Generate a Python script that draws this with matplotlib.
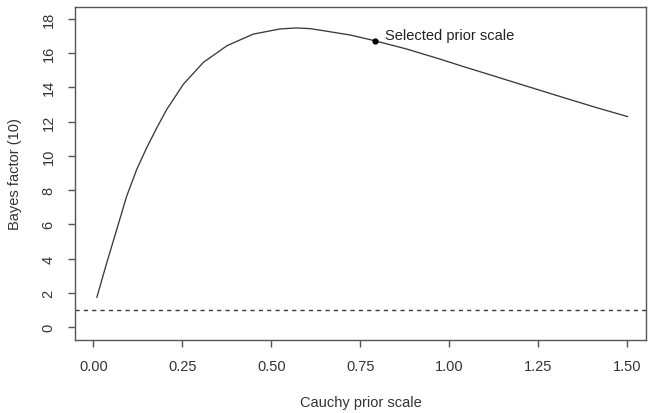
import matplotlib
matplotlib.use("Agg")
import matplotlib.pyplot as plt

# values
prior_scale = [0.01, 0.0376, 0.0657, 0.0938, 0.122, 0.15, 0.18, 0.206, 0.253, 0.309,
               0.375, 0.449, 0.524, 0.571, 0.609, 0.646, 0.721, 0.791, 0.88, 0.974,
               1.04, 1.095, 1.18, 1.25, 1.32, 1.41, 1.50]
bayes_factor = [1.75, 3.75, 5.70, 7.65, 9.21, 10.48, 11.7, 12.7, 14.18, 15.45,
                16.42, 17.1, 17.40, 17.46, 17.42, 17.3, 17.05, 16.71, 16.23, 15.64,
                15.2, 14.85, 14.3, 13.85, 13.4, 12.83, 12.29]
selected_x = 0.791
selected_y = 16.71
ref_line = 1
x_ticks = [0.0, 0.25, 0.5, 0.75, 1.0, 1.25, 1.5]
y_ticks = list(range(0, 19, 2))

plt.rcParams['font.family'] = ['Liberation Sans', 'DejaVu Sans']

fig = plt.figure(figsize=(6.49, 4.14), dpi=100)
ax = fig.add_axes([0.1156, 0.177, 0.88, 0.8036])

ax.plot(prior_scale, bayes_factor, color='#3a3a3a', lw=0.95)
ax.axhline(ref_line, color='#3a3a3a', lw=1, linestyle=(0, (3, 3)))
ax.plot([selected_x], [selected_y], 'o', color='black', markersize=3.5)
ax.annotate("Selected prior scale", (selected_x, selected_y), xytext=(7.5, 4),
            textcoords='offset points', fontsize=10.5, color='#222222', va='center')

ax.set_xlim(-0.0514, 1.5525)
ax.set_ylim(-0.73, 18.68)
ax.set_xticks(x_ticks)
ax.set_xticklabels([f"{t:.2f}" for t in x_ticks])
ax.set_yticks(y_ticks)
ax.set_yticklabels([str(t) for t in y_ticks], rotation=90, va='center')

# R-style axes: box around plot, outward ticks
for s in ax.spines.values():
    s.set_color('#555555')
    s.set_linewidth(1)
ax.tick_params(direction='out', length=5, width=1, color='#555555',
               labelcolor='#333333', labelsize=10.5)
ax.tick_params(axis='x', pad=9)
ax.tick_params(axis='y', pad=9)

ax.set_xlabel("Cauchy prior scale", fontsize=10.5, color='#333333', labelpad=16)
ax.set_ylabel("Bayes factor (10)", fontsize=10.5, color='#333333', labelpad=14)

fig.savefig("out.png", dpi=100, facecolor='white')
